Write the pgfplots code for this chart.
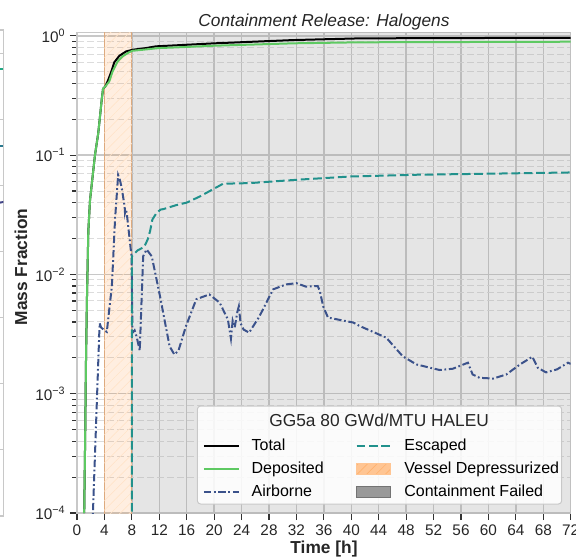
\documentclass[border=0pt]{standalone}
\usepackage{pgfplots}
\pgfplotsset{compat=1.18}
\usepackage{fontspec}
\setmainfont{Liberation Sans}
\usetikzlibrary{patterns.meta}
\definecolor{cTeal}{HTML}{21918C}
\definecolor{cGreen}{HTML}{5EC962}
\definecolor{cBlue}{HTML}{3B528B}
\definecolor{cOrange}{HTML}{FF7F0E}
\definecolor{spine}{HTML}{C8C8C8}
\definecolor{gridmaj}{HTML}{C8C8C8}
\definecolor{gridmin}{HTML}{DCDCDC}
\definecolor{tickc}{HTML}{333333}
\definecolor{lA}{HTML}{22A884}
\definecolor{lB}{HTML}{2A788E}
\definecolor{lC}{HTML}{414487}
\pgfplotsset{
  mylinelegend/.style={legend image code/.code={\draw[##1] (0pt,0pt) -- (26pt,0pt);}},
  mypatchlegend/.style={legend image code/.code={\draw[##1] (0pt,-4.4pt) rectangle (25pt,4.4pt);}},
}
\begin{document}
\begin{tikzpicture}
% ---- partial neighbouring panel (only its right edge is visible) ----
\begin{axis}[
  at={(-72.4pt,-387pt)}, anchor=south west,
  scale only axis, width=75pt, height=364.5pt,
  xmin=0, xmax=1, ymin=0, ymax=7.35,
  xtick=\empty, ytick={0,1,2,3,4,5,6,7}, yticklabels={},
  ymajorgrids, major grid style={gridmaj, line width=0.9pt},
  axis line style={spine, line width=0.9pt},
  major tick length=0pt,
]
\addplot[lA, line width=1.5pt] coordinates {(0.5,6.76) (1,6.76)};
\addplot[lB, line width=1.5pt] coordinates {(0.5,5.6) (1,5.6)};
\addplot[lC, line width=1.5pt] coordinates {(0.5,4.6) (1,4.75)};
\end{axis}
% ---- main panel ----
\begin{axis}[
  at={(57.75pt,-384.75pt)}, anchor=south west,
  scale only axis, width=370.3pt, height=360.5pt,
  xmin=0, xmax=72, ymode=log, ymin=1e-4, ymax=1.07,
  xtick={0,4,...,72},
  ytick={1e-4,1e-3,1e-2,1e-1,1},
  yticklabels={10\textsuperscript{−4},10\textsuperscript{−3},10\textsuperscript{−2},10\textsuperscript{−1},10\textsuperscript{0}},
  minor ytick={2e-4,3e-4,4e-4,5e-4,6e-4,7e-4,8e-4,9e-4,2e-3,3e-3,4e-3,5e-3,6e-3,7e-3,8e-3,9e-3,2e-2,3e-2,4e-2,5e-2,6e-2,7e-2,8e-2,9e-2,0.2,0.3,0.4,0.5,0.6,0.7,0.8,0.9},
  xmajorgrids, ymajorgrids, yminorgrids,
  major grid style={gridmaj, line width=1.1pt},
  minor grid style={gridmin, line width=0.75pt, dash pattern=on 5pt off 2.5pt},
  axis line style={spine, line width=0.9pt},
  tick align=outside, tick pos=left,
  major tick length=5.25pt, minor tick length=3.5pt,
  tick style={tickc, line width=0.9pt},
  ticklabel style={font=\fontsize{11.5}{13}\selectfont, text=black!85},
  /pgf/number format/assume math mode=true,
  legend columns=3, transpose legend,
  legend cell align=left,
  legend style={at={(rel axis cs:0.2546,0.156)}, anchor=north west, draw=none, fill=none,
    font=\fontsize{12}{14}\selectfont, inner sep=0pt, row sep=5.75pt,
    nodes={inner sep=0pt, text height=9pt, text depth=2.5pt},
    /tikz/every odd column/.append style={column sep=9pt},
    /tikz/every even column/.append style={column sep=24pt}},
  mylinelegend,
]
% spans
\addplot[forget plot, draw=cOrange, draw opacity=0.3, line width=0.7pt, fill=cOrange, fill opacity=0.13]
  coordinates {(4,5e-5) (4,2) (8,2) (8,5e-5)} -- cycle;
\addplot[forget plot, draw=none, pattern={Lines[angle=45,distance=5pt,line width=0.5pt]}, pattern color=cOrange!22]
  coordinates {(4,5e-5) (4,2) (8,2) (8,5e-5)} -- cycle;
\addplot[forget plot, draw=none, fill=black!40, fill opacity=0.25]
  coordinates {(8,5e-5) (8,2) (72,2) (72,5e-5)} -- cycle;
% Total
\addplot[forget plot, black, line width=1.5pt] coordinates {
(1.05,1.0e-4) (1.20,4.7e-4) (1.30,1.7e-3) (1.45,6.2e-3) (1.65,0.023) (1.90,0.042)
(2.62,0.10) (3.10,0.153) (3.35,0.21) (3.60,0.29) (3.80,0.36) (4.1,0.375)
(4.5,0.42) (5.0,0.50) (5.44,0.60) (6.17,0.68) (7.15,0.74) (8.12,0.765)
(10.06,0.79) (11.52,0.817) (14.44,0.833) (19.88,0.865) (31.5,0.922) (41.3,0.953) (72,0.964)};
% Deposited
\addplot[forget plot, cGreen, line width=1.5pt] coordinates {
(1.05,1.0e-4) (1.20,4.7e-4) (1.30,1.7e-3) (1.45,6.2e-3) (1.65,0.023) (1.90,0.042)
(2.62,0.10) (3.10,0.153) (3.35,0.21) (3.60,0.29) (3.80,0.36) (4.1,0.375)
(4.70,0.415) (5.20,0.505) (5.93,0.61) (6.67,0.675) (7.62,0.73) (8.1,0.75)
(9.6,0.765) (11.9,0.79) (14.4,0.80) (19.8,0.826) (31.6,0.866) (41.2,0.883) (72,0.893)};
% Airborne
\addplot[forget plot, cBlue, line width=1.5pt, dash pattern=on 5.5pt off 2pt on 1.3pt off 2pt] coordinates {
(2.25,8e-5) (2.33,1.03e-4) (3.3,3.9e-3) (3.5,3.6e-3) (4.0,3.4e-3) (4.35,3.3e-3)
(4.6,4.5e-3) (5.08,7.9e-3) (5.55,0.029) (6.0,0.068) (6.25,0.062) (6.5,0.054)
(6.95,0.037) (7.0,0.033) (7.1,0.035) (7.25,0.033) (7.95,0.0142) (8.1,3.25e-3)
(8.4,3.4e-3) (8.7,3.0e-3) (9.15,2.3e-3) (9.65,0.0142) (10.15,0.0162) (10.9,0.0142)
(12.1,6.6e-3) (13.5,2.5e-3) (14.2,2.13e-3) (14.8,2.3e-3) (15.9,3.7e-3) (17.4,6.2e-3)
(19.3,6.8e-3) (20.8,5.8e-3) (22.0,4.2e-3) (22.45,2.9e-3) (22.7,4.1e-3) (23.0,3.6e-3)
(23.4,4.9e-3) (23.6,5.4e-3) (23.85,3.9e-3) (24.3,3.45e-3) (25.1,3.25e-3) (26.6,4.45e-3)
(28.6,7.5e-3) (30.5,8.25e-3) (32.0,8.45e-3) (33.4,7.9e-3) (35.1,8.0e-3) (35.4,7.3e-3)
(35.9,5.4e-3) (36.6,4.35e-3) (40.3,3.95e-3) (41.2,3.7e-3) (45.1,2.95e-3) (47.5,2.06e-3)
(49.5,1.76e-3) (52.9,1.58e-3) (54.8,1.62e-3) (57.0,1.82e-3) (57.7,1.45e-3) (58.7,1.36e-3)
(60.7,1.34e-3) (62.6,1.45e-3) (64.6,1.76e-3) (66.4,2.04e-3) (67.2,1.65e-3) (68.4,1.51e-3)
(70.0,1.6e-3) (71.6,1.82e-3) (72,1.78e-3)};
% Escaped
\addplot[forget plot, cTeal, line width=1.5pt, dash pattern=on 6.5pt off 2.8pt] coordinates {
(8.0,5e-5) (8.0,0.0142) (8.83,0.0159) (9.8,0.017) (10.3,0.0196) (10.65,0.023) (11.0,0.0289)
(11.6,0.0328) (12.2,0.035) (12.6,0.0353) (14.4,0.038) (16.0,0.040) (17.9,0.045)
(21.3,0.0576) (25.2,0.0583) (32.1,0.0622) (39.8,0.0662) (49.5,0.0685) (59.3,0.0698) (72,0.0716)};
% legend frame and title
\draw[spine, fill=white, fill opacity=0.85, rounded corners=2.5pt, line width=0.75pt]
  (rel axis cs:0.2437,0.0187) rectangle (rel axis cs:0.9818,0.2226);
\node[anchor=base, font=\fontsize{13}{15}\selectfont, text=black!85] at (rel axis cs:0.612,0.181) {GG5a 80 GWd/MTU HALEU};
% legend entries
\addlegendimage{black, line width=1.5pt}
\addlegendentry{Total}
\addlegendimage{cGreen, line width=1.5pt}
\addlegendentry{Deposited}
\addlegendimage{cBlue, line width=1.5pt, dash pattern=on 5.5pt off 2pt on 1.3pt off 2pt}
\addlegendentry{Airborne}
\addlegendimage{cTeal, line width=1.5pt, dash pattern=on 6.5pt off 2.8pt}
\addlegendentry{Escaped}
\addlegendimage{fill=cOrange!45, draw=cOrange!45, line width=0.6pt,
  postaction={pattern={Lines[angle=45,distance=5pt,line width=0.5pt]}, pattern color=cOrange!60},
  mypatchlegend}
\addlegendentry{Vessel Depressurized}
\addlegendimage{fill=black!40, draw=black!55, line width=0.6pt, mypatchlegend}
\addlegendentry{Containment Failed}
\end{axis}
% titles and labels
\node[anchor=base, font=\fontsize{13}{15}\selectfont\itshape, text=black!85] at (243pt,-19.5pt) {Containment Release: Halogens};
\node[anchor=base, font=\fontsize{13}{15}\selectfont\bfseries, text=black!85] at (243pt,-414.75pt) {Time [h]};
\node[anchor=base, rotate=90, font=\fontsize{13}{15}\selectfont\bfseries, text=black!85] at (20.25pt,-200.25pt) {Mass Fraction};
\pgfresetboundingbox
\path[use as bounding box] (0pt,0pt) rectangle (432pt,-418.5pt);
\end{tikzpicture}
\end{document}
